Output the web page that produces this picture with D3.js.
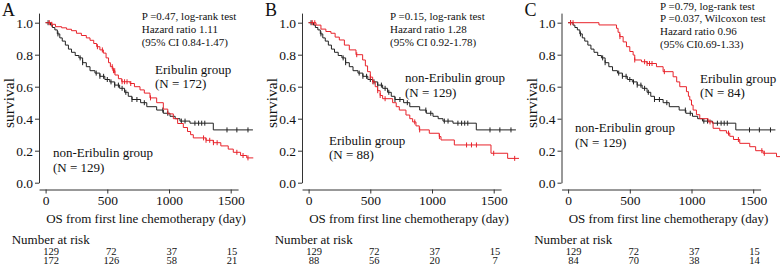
<!DOCTYPE html>
<html>
<head>
<meta charset="utf-8">
<script src="https://cdn.jsdelivr.net/npm/d3@7"></script>
<style>
  body { margin: 0; background: #fff; }
  svg text { font-family: "Liberation Serif", "Times New Roman", serif; fill: #111; }
</style>
</head>
<body>
<script>
// tick values
const dayTicks = [0, 500, 1000, 1500];
const survTicks = [0, 0.2, 0.4, 0.6, 0.8, 1.0];

// non-Eribulin group (same 129 patients in every panel): [day, survival]
const nonEribulin = [[0,1],[40,0.985],[55,0.97],[75,0.955],[95,0.93],[115,0.905],[135,0.885],[160,0.86],[185,0.835],
  [210,0.815],[240,0.795],[270,0.78],[300,0.75],[330,0.725],[360,0.70],[400,0.685],[440,0.665],[480,0.645],[520,0.63],
  [560,0.61],[600,0.59],[640,0.565],[670,0.54],[700,0.52],[770,0.50],[820,0.475],[900,0.454],[954,0.434],[1008,0.415],
  [1050,0.40],[1089,0.385],[1170,0.372],[1359,0.33]];
const nonEribulinEnd = 1680;
const nonEribulinCens = [20,100,280,300,410,440,470,500,530,560,590,620,650,700,740,800,950,990,1100,1130,1210,1240,1265,1290,1470,1550,1640];

// Eribulin groups
const eribulinA = [[0,1],[50,0.99],[80,0.975],[130,0.968],[170,0.959],[210,0.95],[250,0.934],[290,0.92],[330,0.905],
  [360,0.89],[390,0.87],[414,0.85],[440,0.83],[468,0.81],[490,0.78],[510,0.75],[525,0.725],[545,0.70],[562,0.673],
  [590,0.65],[617,0.631],[684,0.62],[720,0.60],[765,0.58],[800,0.56],[846,0.53],[900,0.50],[954,0.46],[990,0.43],
  [1035,0.40],[1070,0.37],[1116,0.345],[1150,0.32],[1175,0.30],[1197,0.28],[1300,0.265],[1359,0.25],[1420,0.23],
  [1480,0.21],[1521,0.19],[1580,0.17],[1630,0.155]];
const eribulinAEnd = 1683;
const eribulinACens = [30,50,420,460,540,550,560,620,640,660,690,850,1280,1300,1330,1360,1390,1550,1600,1640];

const eribulinB = [[0,1],[60,0.985],[100,0.96],[140,0.945],[181,0.934],[215,0.91],[249,0.892],[290,0.86],[330,0.83],
  [384,0.80],[438,0.767],[460,0.73],[478,0.694],[500,0.66],[519,0.631],[540,0.60],[559,0.575],[580,0.545],[600,0.525],
  [681,0.50],[710,0.475],[735,0.454],[789,0.423],[820,0.40],[843,0.38],[870,0.355],[897,0.33],[978,0.309],
  [1059,0.288],[1073,0.267],[1181,0.236],[1478,0.184],[1613,0.152]];
const eribulinBEnd = 1705;
const eribulinBCens = [30,50,390,500,520,560,580,620,860,900,1060,1280,1320,1360,1500,1670];

const eribulinC = [[0,1],[250,0.986],[392,0.965],[405,0.94],[419,0.913],[446,0.88],[473,0.85],[500,0.82],[527,0.798],
  [540,0.767],[595,0.756],[640,0.745],[716,0.725],[770,0.694],[851,0.662],[880,0.63],[905,0.60],[959,0.569],[975,0.54],
  [986,0.517],[1000,0.485],[1013,0.454],[1040,0.425],[1067,0.40],[1135,0.38],[1175,0.34],[1229,0.325],[1283,0.31],
  [1310,0.29],[1340,0.27],[1391,0.246],[1472,0.225],[1520,0.20],[1580,0.184],[1689,0.163]];
const eribulinCEnd = 1720;
const eribulinCCens = [20,40,420,540,620,640,660,680,780,1150,1300,1380,1570,1590];

// numbers at risk at 0, 500, 1000, 1500 days
const riskNon = [129, 72, 37, 15];
const riskA = [172, 126, 58, 21];
const riskB = [88, 56, 20, 7];
const riskC = [84, 70, 38, 14];

const letters = ["A", "B", "C"];
const statsA = ["P =0.47, log-rank test", "Hazard ratio 1.11", "(95% CI 0.84-1.47)"];
const statsB = ["P =0.15, log-rank test", "Hazard ratio 1.28", "(95% CI 0.92-1.78)"];
const statsC = ["P =0.79, log-rank test", "P =0.037, Wilcoxon test", "Hazard ratio 0.96", "(95% CI0.69-1.33)"];

const RED = "#e8232b", BLACK = "#222";

const panels = [
  { ox: 0, letter: letters[0], stats: statsA, statsPos: [141.7, 20],
    eri: eribulinA, eriEnd: eribulinAEnd, eriCens: eribulinACens, risk: riskA, nEri: 172,
    eriLab: [155, 74], nonLab: [53, 157.3] },
  { ox: 263, letter: letters[1], stats: statsB, statsPos: [127, 20],
    eri: eribulinB, eriEnd: eribulinBEnd, eriCens: eribulinBCens, risk: riskB, nEri: 88,
    eriLab: [66, 145], nonLab: [142, 81.5] },
  { ox: 522.5, letter: letters[2], stats: statsC, statsPos: [137.5, 9.5],
    eri: eribulinC, eriEnd: eribulinCEnd, eriCens: eribulinCCens, risk: riskC, nEri: 84,
    eriLab: [177.5, 83.3], nonLab: [52.5, 131.5] }
];

const svg = d3.select("body").append("svg")
  .attr("width", 780).attr("height", 267)
  .style("font-family", "'Liberation Serif', 'Times New Roman', serif");
svg.append("rect").attr("width", 780).attr("height", 267).attr("fill", "#fff");

function survAt(curve, t) {
  let s = 1;
  curve.forEach(d => { if (d[0] <= t) s = d[1]; });
  return s;
}

panels.forEach(p => {
  const g = svg.append("g").attr("transform", `translate(${p.ox},0)`);
  const x = d3.scaleLinear().domain([0, 1500]).range([45.6, 230.7]);
  const y = d3.scaleLinear().domain([0, 1]).range([182.7, 22.7]);

  // axes (R style, detached from the plot area)
  const xAx = d3.scaleLinear().domain([-53, 1560]).range([x(-53), x(1560)]);
  const yAx = d3.scaleLinear().domain([0, 1.06]).range([y(0), y(1.06)]);

  const gx = g.append("g").attr("transform", "translate(0,189.5)")
    .call(d3.axisBottom(xAx).tickValues(dayTicks).tickFormat(d3.format("d"))
      .tickSize(4).tickSizeOuter(0).tickPadding(2));
  const gy = g.append("g").attr("transform", "translate(39,0)")
    .call(d3.axisLeft(yAx).tickValues(survTicks).tickFormat(d3.format(".1f"))
      .tickSize(4).tickSizeOuter(0).tickPadding(2));
  [gx, gy].forEach(a => {
    a.attr("font-family", null);
    a.selectAll("path,line").attr("stroke", "#333").attr("stroke-width", 1);
    a.selectAll("text").attr("font-size", 13.5).attr("fill", "#111");
  });

  const line = d3.line().x(d => x(d[0])).y(d => y(d[1])).curve(d3.curveStepAfter);
  const series = [
    { data: nonEribulin, end: nonEribulinEnd, cens: nonEribulinCens, color: BLACK },
    { data: p.eri, end: p.eriEnd, cens: p.eriCens, color: RED }
  ];
  series.forEach(s => {
    const pts = s.data.concat([[s.end, s.data[s.data.length - 1][1]]]);
    g.append("path").datum(pts).attr("d", line)
      .attr("fill", "none").attr("stroke", s.color).attr("stroke-width", 1);
    g.selectAll(null).data(s.cens).join("line")
      .attr("x1", d => x(d)).attr("x2", d => x(d))
      .attr("y1", d => y(survAt(s.data, d)) - 2.5).attr("y2", d => y(survAt(s.data, d)) + 2.5)
      .attr("stroke", s.color).attr("stroke-width", 1);
  });

  // panel letter
  g.append("text").attr("x", 2).attr("y", 16).attr("font-size", 18).text(p.letter);

  // stats
  g.append("g").selectAll("text").data(p.stats).join("text")
    .attr("x", p.statsPos[0]).attr("y", (d, i) => p.statsPos[1] + i * 12.8)
    .attr("font-size", 11).text(d => d);

  // group labels
  g.append("text").attr("x", p.eriLab[0]).attr("y", p.eriLab[1]).attr("font-size", 13).text("Eribulin group");
  g.append("text").attr("x", p.eriLab[0]).attr("y", p.eriLab[1] + 14).attr("font-size", 13).text(`(N = ${p.nEri})`);
  g.append("text").attr("x", p.nonLab[0]).attr("y", p.nonLab[1]).attr("font-size", 13).text("non-Eribulin group");
  g.append("text").attr("x", p.nonLab[0]).attr("y", p.nonLab[1] + 15).attr("font-size", 13).text("(N = 129)");

  // axis titles
  g.append("text").attr("x", 146).attr("y", 223).attr("text-anchor", "middle").attr("font-size", 13)
    .text("OS from first line chemotherapy (day)");
  g.append("text").attr("transform", "translate(14,103) rotate(-90)").attr("text-anchor", "middle")
    .attr("font-size", 15.5).text("survival");

  // numbers at risk
  const xr = d3.scaleLinear().domain([0, 1500]).range([51, 232]);
  g.append("text").attr("x", 11.7).attr("y", 243.5).attr("font-size", 13).text("Number at risk");
  [riskNon, p.risk].forEach((row, r) => {
    g.append("g").selectAll("text").data(row).join("text")
      .attr("x", (d, i) => xr(dayTicks[i])).attr("y", 254.5 + r * 9.5)
      .attr("text-anchor", "middle").attr("font-size", 10.5).text(d => d);
  });
});
</script>
</body>
</html>
